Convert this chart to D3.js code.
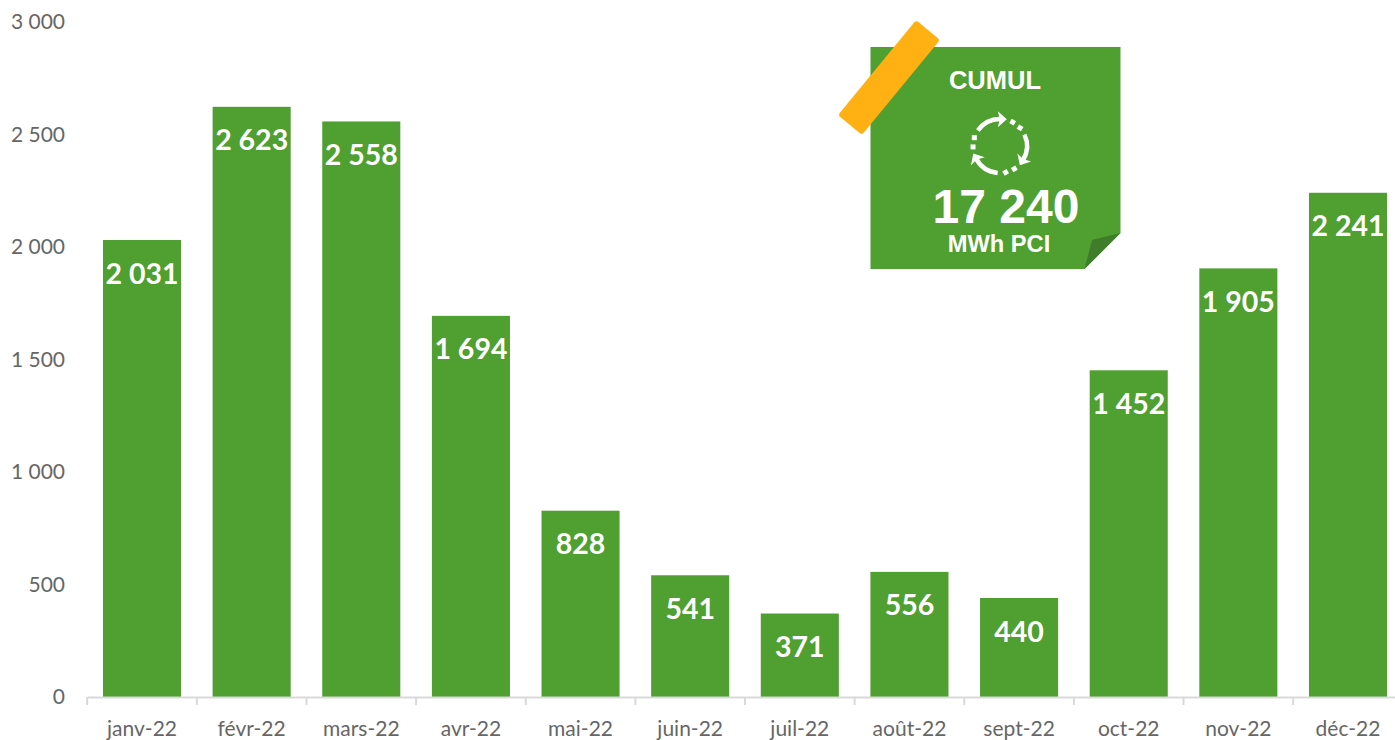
<!DOCTYPE html>
<html><head><meta charset="utf-8">
<script src="https://cdn.jsdelivr.net/npm/d3@7"></script>
<style>html,body{margin:0;padding:0;background:#fff}svg{display:block}</style>
</head><body><svg id="c" width="1395" height="740"></svg>
<script>
const months = ["janv-22","févr-22","mars-22","avr-22","mai-22","juin-22","juil-22","août-22","sept-22","oct-22","nov-22","déc-22"];
const values = [2031,2623,2558,1694,828,541,371,556,440,1452,1905,2241];
const yTicks = [0,500,1000,1500,2000,2500,3000];
const noteTitle = "CUMUL", noteUnit = "MWh PCI";

const GREEN="#4f9f31";
const fmt = d3.formatLocale({decimal:",",thousands:"\u00a0",grouping:[3],currency:["","€"]}).format(",d");
const svg = d3.select("#c");
const x = d3.scaleBand().domain(months).range([87.2,1402.8]).paddingInner(0.288).paddingOuter(0.144);
const y = d3.scaleLinear().domain([0,3000]).range([697,22]);

// y axis
const gy = svg.append("g").attr("transform","translate(71,0)")
  .call(d3.axisLeft(y).tickValues(yTicks).tickFormat(fmt).tickSize(0).tickPadding(6));
gy.select(".domain").remove();
gy.selectAll("text").attr("font-family","Lato").attr("font-size",21).attr("fill","#666");

// bars
svg.append("g").selectAll("rect").data(values).join("rect")
  .attr("x",(d,i)=>x(months[i])).attr("width",x.bandwidth())
  .attr("y",d=>y(d)).attr("height",d=>y(0)-y(d)).attr("fill",GREEN);

// labels
svg.append("g").selectAll("text").data(values).join("text")
  .attr("x",(d,i)=>x(months[i])+x.bandwidth()/2).attr("y",d=>y(d)+43.5)
  .attr("text-anchor","middle").attr("font-family","Lato").attr("font-weight",700)
  .attr("font-size",28.5).attr("fill","#fff").text(d=>fmt(d));

// x axis
const gx = svg.append("g").attr("transform",`translate(0,${y(0)})`)
  .call(d3.axisBottom(x).tickSize(0).tickPadding(24));
gx.select(".domain").attr("stroke","#d9d9d9").attr("stroke-width",2);
gx.selectAll("text").attr("font-family","Lato").attr("font-size",21).attr("fill","#666");
svg.append("g").attr("transform",`translate(0,${y(0)})`)
  .selectAll("line").data(d3.range(months.length+1)).join("line")
  .attr("x1",i=>x.range()[0]+i*x.step()).attr("x2",i=>x.range()[0]+i*x.step())
  .attr("y1",0).attr("y2",8).attr("stroke","#d9d9d9").attr("stroke-width",2);

// note
const note = svg.append("g");
note.append("path").attr("d","M870.5,47H1120.5V233L1084.5,269H870.5Z").attr("fill",GREEN);
note.append("path").attr("d","M1120.5,233L1092,240L1084.5,269Z").attr("fill","#3f7d2b");
note.append("rect").attr("x",-15.5).attr("y",-61.5).attr("width",31).attr("height",123).attr("rx",3)
  .attr("transform","translate(889,77.5) rotate(39.4)").attr("fill","#ffb012");
const sans="Liberation Sans";
const t=(s,xx,yy,sz)=>note.append("text").attr("x",xx).attr("y",yy).attr("text-anchor","middle")
  .attr("font-family",sans).attr("font-weight",700).attr("font-size",sz).attr("fill","#fff").text(s);
t(noteTitle,995,89,25.5);
t(fmt(d3.sum(values)),1006,223,48);
t(noteUnit,999,252,23.7);

// cycle icon
const icon = note.append("g").attr("transform","translate(1000,146)");
const R=27, rad=a=>(a-90)*Math.PI/180;
[0,120,240].forEach(r=>{
  const g=icon.append("g").attr("transform",`rotate(${r})`);
  g.append("path").attr("fill","none").attr("stroke","#fff").attr("stroke-width",4.5)
   .attr("d",d3.arc()({innerRadius:R,outerRadius:R,startAngle:-55*Math.PI/180,endAngle:2*Math.PI/180}));
  const tx=R*Math.cos(rad(6)), ty=R*Math.sin(rad(6));
  g.append("path").attr("fill","#fff").attr("d",`M${tx+4},${ty}L${tx-5},${ty-8}L${tx-3},${ty}L${tx-5},${ty+8}Z`);
  [-72,-92].forEach(a=>g.append("rect").attr("x",R*Math.cos(rad(a))-2.5).attr("y",R*Math.sin(rad(a))-2.5)
     .attr("width",5).attr("height",5).attr("fill","#fff"));
});
</script></body></html>
